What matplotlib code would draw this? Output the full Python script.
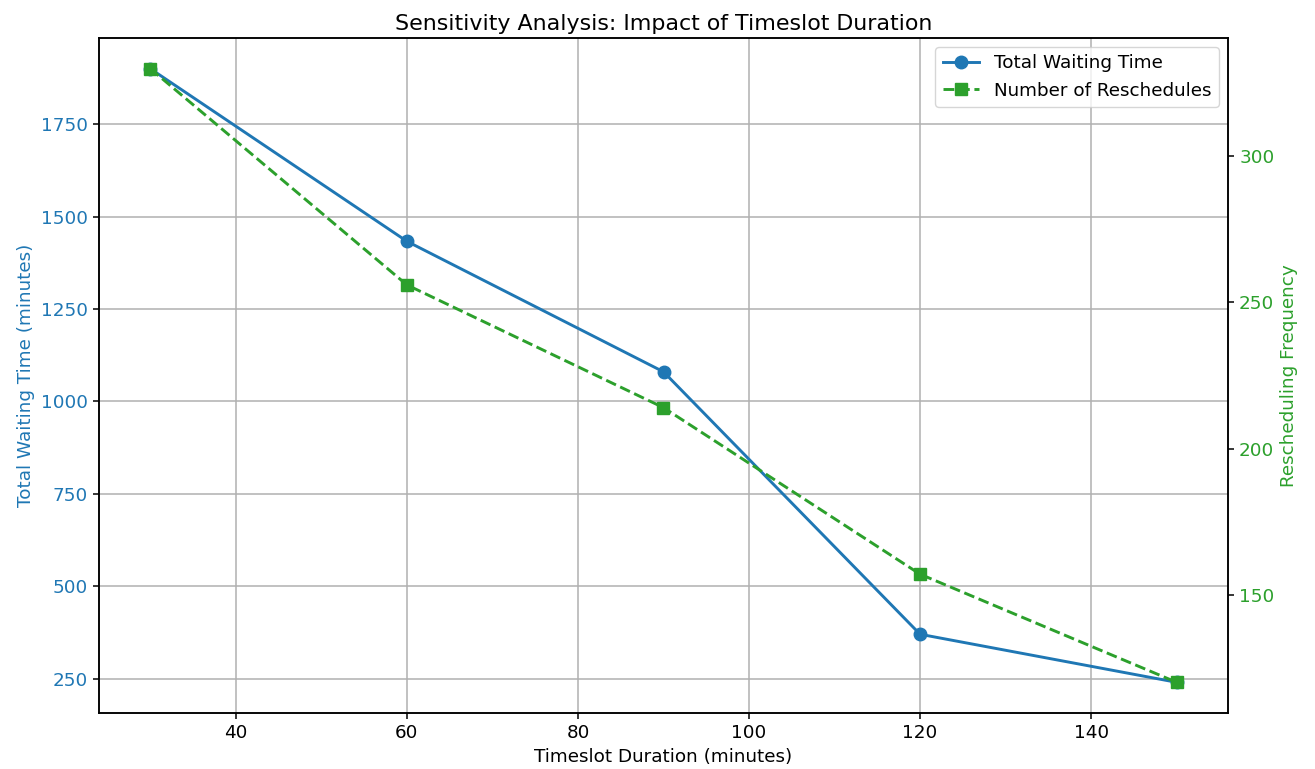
import matplotlib
matplotlib.use("Agg")
import matplotlib.pyplot as plt

durations = [30, 60, 90, 120, 150]
waiting_time = [1900, 1433, 1080, 370, 240]
reschedules = [330, 256, 214, 157, 120]

blue = "#1f77b4"
green = "#2ca02c"

fig = plt.figure(figsize=(13.15, 7.69), dpi=100)
ax1 = fig.add_axes([99/1315, 1-713/769, (1228-99)/1315, (713-38)/769])
fs = 13.2
l1, = ax1.plot(durations, waiting_time, marker="o", color=blue, linewidth=2.1,
               markersize=9, label="Total Waiting Time")
ax1.set_xlabel("Timeslot Duration (minutes)", fontsize=fs)
ax1.set_ylabel("Total Waiting Time (minutes)", color=blue, fontsize=fs)
ax1.tick_params(axis="y", labelcolor=blue, labelsize=fs, length=4.5, width=1.1)
ax1.tick_params(axis="x", labelsize=fs, length=4.5, width=1.1)
ax1.grid(True, color="#b0b0b0", linewidth=1.1)
for s in ax1.spines.values():
    s.set_linewidth(1.1)

ax2 = ax1.twinx()
l2, = ax2.plot(durations, reschedules, marker="s", linestyle="--", color=green,
               linewidth=2.1, markersize=9, label="Number of Reschedules")
ax2.set_ylabel("Rescheduling Frequency", color=green, fontsize=fs)
ax2.tick_params(axis="y", labelcolor=green, labelsize=fs, length=4.5, width=1.1)
for s in ax2.spines.values():
    s.set_linewidth(1.1)

ax1.set_title("Sensitivity Analysis: Impact of Timeslot Duration", fontsize=15.9)
ax2.legend([l1, l2], [l1.get_label(), l2.get_label()], loc="upper right", fontsize=fs)

fig.savefig("out.png", dpi=100)
